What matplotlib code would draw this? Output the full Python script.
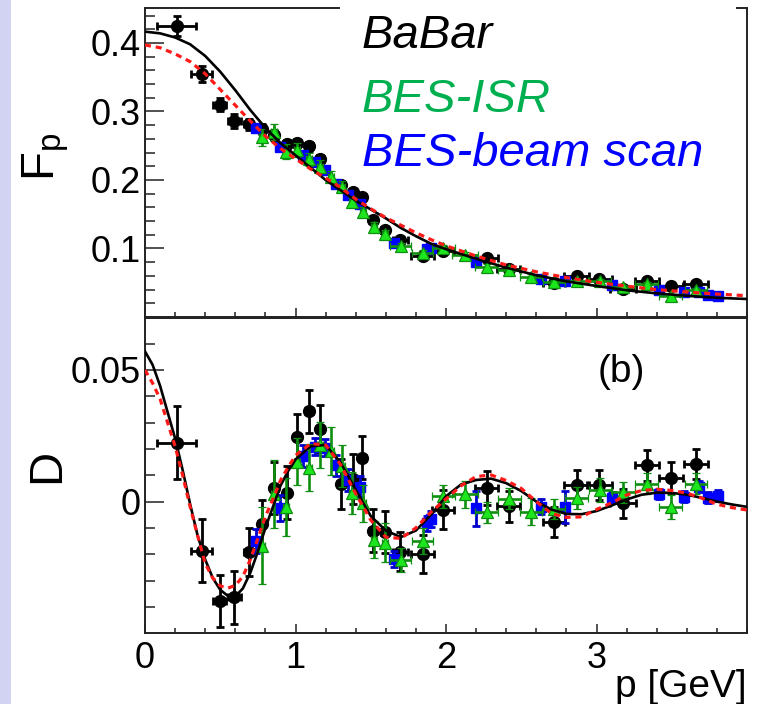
import matplotlib
matplotlib.use("Agg")
import matplotlib.pyplot as plt
from matplotlib.patches import Rectangle
from matplotlib.ticker import MultipleLocator, FixedLocator

plt.rcParams['font.family'] = ['Liberation Sans', 'DejaVu Sans']
plt.rcParams['mathtext.fontset'] = 'custom'
plt.rcParams['mathtext.rm'] = 'Liberation Sans'
plt.rcParams['mathtext.it'] = 'Liberation Sans:italic'
plt.rcParams['mathtext.default'] = 'regular'

# ---------------- data ----------------
# BaBar
bb_p = [0.21, 0.377, 0.496, 0.594, 0.688, 0.775, 0.86, 0.941, 1.012, 1.09, 1.163, 1.302, 1.38, 1.445,
        1.515, 1.592, 1.697, 1.845, 1.98, 2.27, 2.416, 2.718, 2.868, 3.019, 3.178, 3.333, 3.493, 3.661]
bb_dp = [0.13, 0.07, 0.045, 0.045, 0.03, 0.025, 0.025, 0.025, 0.025, 0.025, 0.025, 0.025, 0.025, 0.025,
         0.025, 0.025, 0.05, 0.075, 0.075, 0.075, 0.075, 0.075, 0.085, 0.085, 0.085, 0.08, 0.08, 0.08]
bb_F = [0.425, 0.355, 0.310, 0.286, 0.281, 0.274, 0.266, 0.252, 0.254, 0.249, 0.230, 0.193, 0.182, 0.1745,
        0.1416, 0.127, 0.112, 0.089, 0.097, 0.0857, 0.070, 0.049, 0.060, 0.055, 0.041, 0.053, 0.045, 0.048]
bb_dF = [0.0146, 0.012, 0.010, 0.0097, 0.008, 0.007, 0.007, 0.007, 0.006, 0.006, 0.006, 0.005, 0.005, 0.005,
         0.005, 0.005, 0.004, 0.004, 0.004, 0.0035, 0.0035, 0.003, 0.003, 0.003, 0.003, 0.003, 0.003, 0.003]
bb_D = [0.0224, -0.0187, -0.0377, -0.0364, -0.0191, -0.0085, 0.0051, 0.0034, 0.0244, 0.0342, 0.0277, 0.0068,
        0.0085, 0.0166, -0.0110, -0.0117, -0.0190, -0.0199, -0.0031, 0.0051, -0.0018, -0.0076, 0.0063, 0.0063,
        -0.0006, 0.0137, 0.0091, 0.0143]
bb_dD = [0.014, 0.012, 0.010, 0.010, 0.009, 0.009, 0.010, 0.010, 0.009, 0.008, 0.009, 0.0095, 0.0095, 0.0082,
         0.008, 0.008, 0.0075, 0.0072, 0.0074, 0.0065, 0.006, 0.0057, 0.0057, 0.0057, 0.0055, 0.0058, 0.006, 0.0057]

# BES-ISR
g_p = [0.775, 0.857, 0.937, 1.012, 1.092, 1.163, 1.234, 1.307, 1.378, 1.451, 1.524, 1.595, 1.699, 1.845,
       1.982, 2.126, 2.27, 2.421, 2.565, 2.718, 2.868, 3.023, 3.178, 3.333, 3.493, 3.661]
g_dp = [0.02, 0.02, 0.02, 0.02, 0.02, 0.02, 0.02, 0.02, 0.02, 0.02, 0.02, 0.02, 0.07, 0.07,
        0.075, 0.085, 0.075, 0.075, 0.075, 0.075, 0.075, 0.075, 0.075, 0.075, 0.075, 0.075]
g_F = [0.262, 0.270, 0.241, 0.244, 0.230, 0.2195, 0.205, 0.190, 0.168, 0.153, 0.132, 0.121, 0.103, 0.093,
       0.101, 0.091, 0.073, 0.069, 0.059, 0.051, 0.052, 0.053, 0.044, 0.048, 0.031, 0.040]
g_dF = [0.013, 0.012, 0.011, 0.010, 0.009, 0.009, 0.008, 0.008, 0.007, 0.007, 0.006, 0.006, 0.005, 0.005,
        0.004, 0.004, 0.004, 0.004, 0.004, 0.003, 0.003, 0.003, 0.003, 0.003, 0.003, 0.003]
g_D = [-0.0167, 0.0028, -0.0019, 0.0152, 0.0129, 0.0215, 0.0192, 0.0136, 0.0032, -0.0006, -0.0145, -0.0156,
       -0.0221, -0.0150, 0.0020, 0.0027, -0.0040, 0.0010, -0.0038, -0.0029, 0.0013, 0.0044, 0.0036, 0.0067,
       -0.0021, 0.0067]
g_dD = [0.0147, 0.013, 0.011, 0.009, 0.009, 0.0088, 0.009, 0.008, 0.008, 0.007, 0.007, 0.0073, 0.0046, 0.005,
        0.0044, 0.0052, 0.004, 0.004, 0.005, 0.0038, 0.0042, 0.0044, 0.004, 0.004, 0.0046, 0.004]

# BES beam scan
b_p = [0.735, 0.899, 1.05, 1.127, 1.196, 1.272, 1.35, 1.428, 1.655, 1.872, 1.90, 2.199, 2.63, 2.791,
       3.101, 3.415, 3.581, 3.683, 3.743, 3.809]
b_F = [0.2755, 0.2487, 0.2365, 0.2268, 0.2146, 0.1942, 0.178, 0.165, 0.1076, 0.099, 0.100, 0.0807, 0.056,
       0.053, 0.0467, 0.040, 0.037, 0.037, 0.032, 0.031]
b_dF = [0.004, 0.004, 0.004, 0.004, 0.004, 0.004, 0.004, 0.004, 0.003, 0.003, 0.003, 0.003, 0.003, 0.003,
        0.003, 0.003, 0.003, 0.003, 0.003, 0.003]
b_D = [-0.0150, -0.0025, 0.0173, 0.0209, 0.0205, 0.0137, 0.0082, 0.0057, -0.0217, -0.0083, -0.0066, -0.0025,
       -0.0019, -0.0021, 0.0015, 0.0028, 0.0019, 0.0057, 0.0015, 0.0023]
b_dD = [0.0044, 0.005, 0.004, 0.0033, 0.0033, 0.004, 0.004, 0.004, 0.003, 0.003, 0.003, 0.0066, 0.003, 0.006,
        0.002, 0.002, 0.002, 0.002, 0.002, 0.002]

# fit curves
cF_p = [0.0, 0.1, 0.2, 0.3, 0.4, 0.5, 0.6, 0.7, 0.8, 0.9, 1.0, 1.1, 1.2, 1.3, 1.4, 1.5, 1.6, 1.7, 1.8, 1.9,
        2.0, 2.2, 2.4, 2.6, 2.8, 3.0, 3.2, 3.4, 3.6, 3.8, 4.0]
cF_black = [0.4165, 0.414, 0.408, 0.398, 0.381, 0.358, 0.331, 0.302, 0.276, 0.254, 0.236, 0.218, 0.200,
            0.185, 0.170, 0.157, 0.144, 0.130, 0.118, 0.107, 0.099, 0.085, 0.072, 0.061, 0.052, 0.0453,
            0.039, 0.0345, 0.031, 0.028, 0.0263]
cF_red = [0.397, 0.393, 0.384, 0.3727, 0.355, 0.332, 0.309, 0.286, 0.264, 0.246, 0.231, 0.216, 0.203,
          0.189, 0.172, 0.158, 0.145, 0.134, 0.123, 0.113, 0.104, 0.089, 0.076, 0.066, 0.0575, 0.0506,
          0.045, 0.040, 0.0365, 0.0335, 0.0311]

cD_p = [0.0, 0.05, 0.1, 0.15, 0.2, 0.25, 0.3, 0.35, 0.4, 0.45, 0.5, 0.55, 0.6, 0.65, 0.7, 0.75, 0.8, 0.85,
        0.9, 0.95, 1.0, 1.1, 1.2, 1.3, 1.4, 1.5, 1.6, 1.7, 1.8, 1.9, 2.0, 2.1, 2.2, 2.3, 2.4, 2.5, 2.6, 2.7,
        2.8, 2.9, 3.0, 3.1, 3.2, 3.3, 3.4, 3.5, 3.6, 3.7, 3.8, 3.9, 4.0]
cD_black = [0.057, 0.052, 0.044, 0.034, 0.024, 0.012, -0.001, -0.013, -0.022, -0.029, -0.0335, -0.0358,
            -0.0360, -0.033, -0.027, -0.019, -0.010, -0.002, 0.0060, 0.0115, 0.016, 0.021, 0.0215, 0.0148,
            0.0045, -0.0055, -0.011, -0.0135, -0.011, -0.005, 0.002, 0.0065, 0.0082, 0.0087, 0.007, 0.004,
            0.0, -0.003, -0.0047, -0.0048, -0.0036, -0.0015, 0.0008, 0.0026, 0.0034, 0.0033, 0.0026, 0.0014,
            0.0, -0.0011, -0.002]
cD_red = [0.050, 0.045, 0.039, 0.030, 0.021, 0.010, -0.002, -0.013, -0.0235, -0.029, -0.032, -0.0329,
          -0.0318, -0.0285, -0.022, -0.014, -0.0057, 0.001, 0.008, 0.013, 0.0175, 0.022, 0.0215, 0.014,
          0.003, -0.007, -0.0135, -0.014, -0.010, -0.004, 0.001, 0.006, 0.0095, 0.0101, 0.008, 0.005,
          0.0, -0.0045, -0.006, -0.0058, -0.003, -0.0005, 0.0025, 0.0042, 0.0047, 0.0042, 0.0032, 0.0013,
          -0.001, -0.0023, -0.0032]

# ---------------- figure ----------------
W, H = 757, 704
fig = plt.figure(figsize=(W / 100, H / 100), dpi=100)
fig.patch.set_facecolor('white')

def fx(px):
    return px / W

def fy(py):
    return 1 - py / H

axL, axR = 145, 747
ax1 = fig.add_axes([fx(axL), fy(317), fx(axR - axL), (317 - 8) / H])
ax2 = fig.add_axes([fx(axL), fy(633), fx(axR - axL), (633 - 318) / H])

BLACK = 'black'
GREEN_F = '#1ee61e'
GREEN_E = '#0f8f0f'
BLUE = '#0000ff'

def draw(ax, yb, dyb, yg, dyg, yblue, dyblue):
    ax.errorbar(bb_p, yb, xerr=bb_dp, yerr=dyb, fmt='o', ms=8.5, color=BLACK, ecolor=BLACK,
                elinewidth=2.0, capsize=3.0, capthick=2.0, zorder=3)
    ax.errorbar(b_p, yblue, yerr=dyblue, fmt='s', ms=7.5, color=BLUE, ecolor='#0000cc',
                elinewidth=2.0, capsize=3.0, capthick=2.0, zorder=4)
    ax.errorbar(g_p, yg, xerr=g_dp, yerr=dyg, fmt='^', ms=8.5, mfc=GREEN_F, mec=GREEN_E, mew=0.9,
                ecolor=GREEN_E, elinewidth=1.9, capsize=3.0, capthick=1.9, zorder=5)

draw(ax1, bb_F, bb_dF, g_F, g_dF, b_F, b_dF)
ax1.plot(cF_p, cF_black, color='black', lw=1.9, zorder=6)
ax1.plot(cF_p, cF_red, color='#ff1a1a', lw=2.3, dashes=(1.9, 1.5), zorder=7)

draw(ax2, bb_D, bb_dD, g_D, g_dD, b_D, b_dD)
ax2.plot(cD_p, cD_black, color='black', lw=1.9, zorder=6)
ax2.plot(cD_p, cD_red, color='#ff1a1a', lw=2.3, dashes=(1.9, 1.5), zorder=7)

for ax in (ax1, ax2):
    ax.set_xlim(0, 4.0)
    ax.xaxis.set_major_locator(FixedLocator([0, 1, 2, 3]))
    ax.xaxis.set_minor_locator(MultipleLocator(0.2))
    for s in ax.spines.values():
        s.set_linewidth(1.4)
        s.set_color('#222222')
    ax.tick_params(which='both', direction='in', top=False, right=False, width=1.2, color='#333333')
    ax.tick_params(axis='y', which='major', length=14, labelsize=26, pad=3)
    ax.tick_params(axis='y', which='minor', length=7)
    ax.tick_params(axis='x', which='major', length=6.5, labelsize=26, pad=6)
    ax.tick_params(axis='x', which='minor', length=3.3)

ax1.set_ylim(0.0, 0.451)
ax1.yaxis.set_major_locator(FixedLocator([0.1, 0.2, 0.3, 0.4]))
ax1.yaxis.set_minor_locator(MultipleLocator(0.02))
ax1.set_yticklabels(['0.1', '0.2', '0.3', '0.4'])
ax1.tick_params(axis='x', labelbottom=False)

ax2.set_ylim(-0.0499, 0.0697)
ax2.yaxis.set_major_locator(FixedLocator([0.0, 0.05]))
ax2.yaxis.set_minor_locator(MultipleLocator(0.01))
ax2.set_yticklabels(['0', '0.05'])
ax2.set_xticklabels(['0', '1', '2', '3'])

ax2.text(0.792, 0.829, '(b)', transform=ax2.transAxes, fontsize=28, ha='center', va='center')

# axis titles
fig.text(fx(46), fy(157), r'$F_{p}$', rotation=90, fontsize=34, ha='center', va='center')
fig.text(fx(47), fy(466), 'D', rotation=90, fontsize=34, ha='center', va='center')
fig.text(fx(747), fy(697), 'p [GeV]', fontsize=28, ha='right', va='baseline')

# legend box (white pave covering the frame)
fig.add_artist(Rectangle((fx(340), fy(172)), fx(736 - 340), (172) / H, transform=fig.transFigure,
                         facecolor='white', edgecolor='none', zorder=10))
fig.text(fx(362), fy(48), 'BaBar', fontsize=34, style='italic', color='black', zorder=11)
fig.text(fx(362), fy(112), 'BES-ISR', fontsize=34, style='italic', color='#00b050', zorder=11)
fig.text(fx(362), fy(166), 'BES-beam scan', fontsize=34, style='italic', color='#0000ff', zorder=11)

# lavender strip on the left
fig.add_artist(Rectangle((0, 0), fx(11), 1, transform=fig.transFigure, facecolor='#d2d2f2',
                         edgecolor='none', zorder=12))

fig.savefig('out.png', dpi=100)
